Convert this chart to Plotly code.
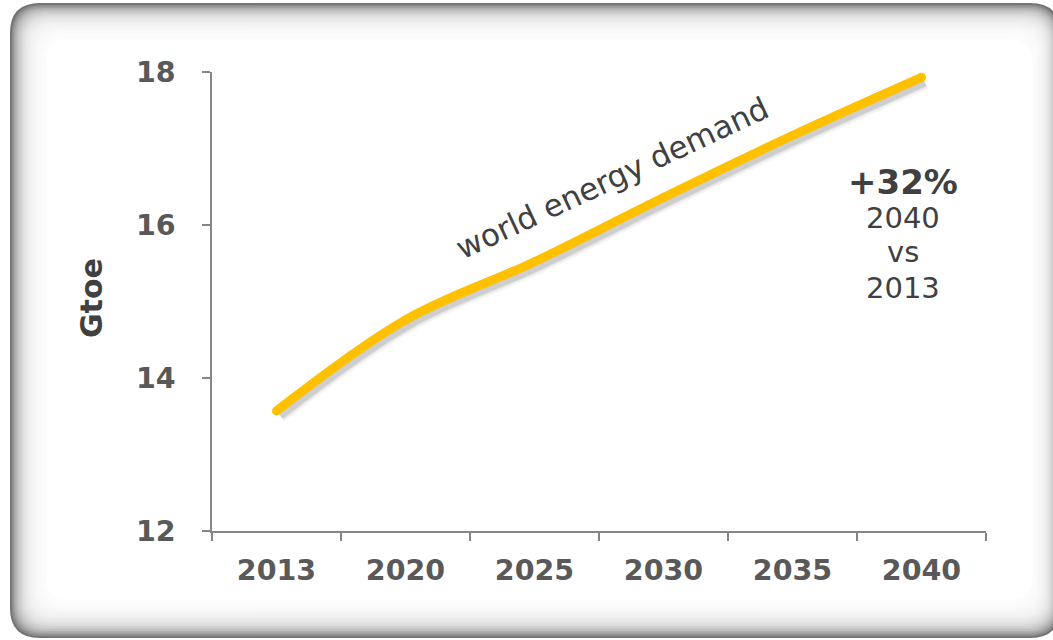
import math
import plotly.graph_objects as go

# ---- data ----
years = ["2013", "2020", "2025", "2030", "2035", "2040"]
demand_gtoe = [13.57, 14.76, 15.52, 16.36, 17.17, 17.93]
y_tick_values = [12, 14, 16, 18]
y_title = "Gtoe"
line_label = "world energy demand"
growth_lines = ["+32%", "2040", "vs", "2013"]

# ---- layout geometry ----
W, H = 1053, 640
ML, MR, MT, MB = 212, 67, 72, 109
PW, PH = W - ML - MR, H - MT - MB


def px(x):
    return (x - ML) / PW


def py(y):
    return (H - MB - y) / PH


def rrect(l, t, r, b, rad):
    return (
        f"M {px(l+rad)},{py(t)} L {px(r-rad)},{py(t)} "
        f"Q {px(r)},{py(t)} {px(r)},{py(t+rad)} L {px(r)},{py(b-rad)} "
        f"Q {px(r)},{py(b)} {px(r-rad)},{py(b)} L {px(l+rad)},{py(b)} "
        f"Q {px(l)},{py(b)} {px(l)},{py(b-rad)} L {px(l)},{py(t+rad)} "
        f"Q {px(l)},{py(t)} {px(l+rad)},{py(t)} Z"
    )


shapes = []
L0, T0, R0, B0 = 10, 3, 1060, 638
wl, wt, wr, wb = 36, 36, 28, 38
n = 22
for i in range(n + 1):
    t = i / n
    c = int(round(255 - 140 * math.exp(-4.2 * t)))
    if i == n:
        c = 255
    shapes.append(dict(
        type="path", xref="paper", yref="paper",
        path=rrect(L0 + wl * t, T0 + wt * t, R0 - wr * t, B0 - wb * t, 30 - 8 * t),
        fillcolor=f"rgb({c},{c},{c})", line=dict(width=0), layer="below",
    ))

fig = go.Figure()

# soft shadow of the line (base axes, slightly shifted)
for w, a in [(17, 0.04), (13, 0.06), (10, 0.10)]:
    fig.add_trace(go.Scatter(
        x=years, y=demand_gtoe, mode="lines", xaxis="x", yaxis="y",
        line=dict(color=f"rgba(0,0,0,{a})", width=w, shape="spline", smoothing=1),
        hoverinfo="skip", showlegend=False,
    ))

fig.add_trace(go.Scatter(
    x=years, y=demand_gtoe, mode="lines+markers", xaxis="x2", yaxis="y2",
    line=dict(color="#FFC000", width=9, shape="spline", smoothing=1),
    marker=dict(color="#FFC000", size=9, line=dict(width=0)),
    showlegend=False,
))

dx = 3 / PW * 6
dy = 4 / PH * 6
tickfont = dict(family="DejaVu Sans", size=28.5, color="#595959", weight="bold")

fig.update_layout(
    width=W, height=H,
    margin=dict(l=ML, r=MR, t=MT, b=MB, pad=0),
    paper_bgcolor="white", plot_bgcolor="rgba(0,0,0,0)",
    shapes=shapes,
    xaxis=dict(type="category", range=[-0.5 - dx, 5.5 - dx], visible=False,
               categoryorder="array", categoryarray=years),
    yaxis=dict(range=[12 + dy, 18 + dy], visible=False),
    xaxis2=dict(type="category", overlaying="x", anchor="y2", side="bottom",
                range=[-0.5, 5.5], categoryorder="array", categoryarray=years,
                showline=True, linecolor="#868686", linewidth=1.5,
                ticks="outside", tickson="boundaries", ticklen=8, tickwidth=1.5,
                tickcolor="#868686", showgrid=False, zeroline=False,
                tickfont=tickfont, ticklabelstandoff=13),
    yaxis2=dict(overlaying="y", anchor="x2", side="left", range=[12, 18],
                tickvals=y_tick_values, showline=True, linecolor="#868686",
                linewidth=1.5, ticks="outside", ticklen=8, tickwidth=1.5,
                tickcolor="#868686", showgrid=False, zeroline=False,
                tickfont=tickfont, ticklabelstandoff=21),
)

annotations = [
    dict(text=y_title, x=px(91), y=py(298), textangle=-90,
         font=dict(family="DejaVu Sans", size=30, color="#404040", weight="bold")),
    dict(text=line_label, x=px(612), y=py(178), textangle=-25,
         font=dict(family="DejaVu Sans", size=31, color="#404040")),
    dict(text=growth_lines[0], x=px(903), y=py(182),
         font=dict(family="DejaVu Sans", size=34, color="#404040", weight="bold")),
    dict(text=growth_lines[1], x=px(903), y=py(218),
         font=dict(family="DejaVu Sans", size=29, color="#404040")),
    dict(text=growth_lines[2], x=px(903), y=py(252),
         font=dict(family="DejaVu Sans", size=29, color="#404040")),
    dict(text=growth_lines[3], x=px(903), y=py(288),
         font=dict(family="DejaVu Sans", size=29, color="#404040")),
]
for a in annotations:
    a.update(xref="paper", yref="paper", showarrow=False,
             xanchor="center", yanchor="middle")
fig.update_layout(annotations=annotations)

fig.write_html("out.html", config={"displayModeBar": False},
               post_script="document.body.style.margin='0px';")
